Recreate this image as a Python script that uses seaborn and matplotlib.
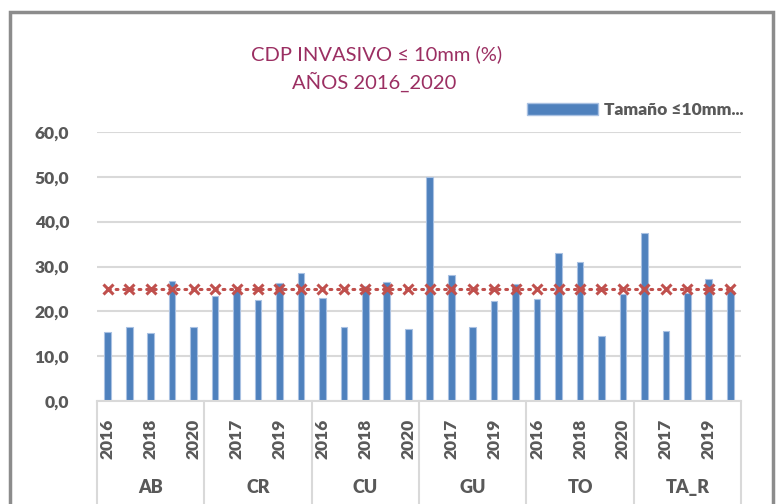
import numpy as np
import pandas as pd
import matplotlib
matplotlib.use('Agg')
import matplotlib.pyplot as plt
import seaborn as sns
from matplotlib.patches import Patch, Rectangle

# datos
grupos = ['AB', 'CR', 'CU', 'GU', 'TO', 'TA_R']
anios = [2016, 2017, 2018, 2019, 2020]
valores_ab = [15.4, 16.6, 15.2, 26.7, 16.5]
valores_cr = [23.5, 24.8, 22.6, 26.4, 28.6]
valores_cu = [23.0, 16.6, 25.6, 26.6, 16.0]
valores_gu = [50.0, 28.1, 16.5, 22.3, 26.0]
valores_to = [22.7, 33.1, 30.9, 14.6, 23.9]
valores_tar = [37.4, 15.7, 24.2, 27.3, 24.5]
referencia = [25.0, 25.0, 25.0, 25.0, 25.0,
              25.0, 25.0, 25.0, 25.0, 25.0,
              25.0, 25.0, 25.0, 25.0, 25.0,
              25.0, 25.0, 25.0, 25.0, 25.0,
              25.0, 25.0, 25.0, 25.0, 25.0,
              25.0, 25.0, 25.0, 25.0, 25.0]
serie = 'Tamaño ≤10mm...'

df = pd.DataFrame({
    'grupo': np.repeat(grupos, len(anios)),
    'anio': anios * len(grupos),
    'valor': valores_ab + valores_cr + valores_cu + valores_gu + valores_to + valores_tar,
    'referencia': referencia,
})
df['etiqueta'] = df['grupo'] + '_' + df['anio'].astype(str)

sns.set_style('white')
plt.rcParams['font.family'] = ['Lato', 'DejaVu Sans']

gris = '#595959'
azul = '#4F81BD'
rojo = '#C0504D'
peso = 'heavy'

fig = plt.figure(figsize=(7.82, 5.04), dpi=100)
ax = fig.add_axes([97 / 782, 1 - 401 / 504, (741 - 97) / 782, (401 - 132) / 504])

sns.barplot(data=df, x='etiqueta', y='valor', color=azul, saturation=1, width=0.31,
            edgecolor='#A9C1E2', linewidth=0.8, ax=ax)

pos = np.arange(len(df))
ax.plot(pos, df['referencia'], color=rojo, ls=(0, (0.6, 1.9)), lw=2.2, marker='x',
        ms=7, mew=2.2, dash_capstyle='round', zorder=4)

ax.set_xlim(-0.5, len(df) - 0.5)
ax.set_ylim(0, 60)
ax.set_yticks(range(0, 61, 10))
ax.set_yticklabels([f'{v:.1f}'.replace('.', ',') for v in range(0, 61, 10)])
ax.grid(axis='y', color='#D9D9D9', lw=1.5)
ax.set_axisbelow(True)
for s in ['left', 'right', 'top']:
    ax.spines[s].set_visible(False)
ax.spines['bottom'].set_color('#D9D9D9')
ax.spines['bottom'].set_linewidth(1.5)
ax.set_xlabel('')
ax.set_ylabel('')

ax.tick_params(axis='y', length=0, pad=20, labelsize=12.5, labelcolor=gris)
ax.set_xticks(pos[::2])
ax.set_xticklabels(df['anio'].astype(str).tolist()[::2], rotation=90, va='top', ha='center')
ax.tick_params(axis='x', length=0, pad=13, labelsize=12.5, labelcolor=gris)
for t in ax.get_xticklabels() + ax.get_yticklabels():
    t.set_fontweight(peso)

# etiquetas de grupo y separadores
trans = ax.get_xaxis_transform()
for i, g in enumerate(grupos):
    ax.text(i * len(anios) + (len(anios) - 1) / 2, -0.323, g, transform=trans,
            ha='center', va='center', fontweight=peso, fontsize=13, color=gris)
for b in np.arange(-0.5, len(df), len(anios)):
    ax.plot([b, b], [0, -0.4], transform=trans, clip_on=False, color='#D9D9D9', lw=1.5)

# titulo
fig.text(0.481, 1 - 54 / 504, 'CDP INVASIVO ≤ 10mm (%)', ha='center', va='center',
         color='#9B2F62', fontsize=14.5)
fig.text(0.479, 1 - 82 / 504, 'AÑOS 2016_2020', ha='center', va='center',
         color='#9B2F62', fontsize=14.5)

# leyenda
leg = fig.legend(handles=[Patch(facecolor=azul, edgecolor='#A9C1E2')], labels=[serie],
                 loc='center left', bbox_to_anchor=(527 / 782, 1 - 110 / 504),
                 frameon=False, handlelength=4.1, handleheight=0.7, handletextpad=0.35,
                 borderpad=0, borderaxespad=0, prop={'weight': peso, 'size': 12.5})
for t in leg.get_texts():
    t.set_color(gris)

# marco exterior
fig.add_artist(Rectangle((10 / 782, -0.05), (773 - 10) / 782, 1 - 12 / 504 + 0.05,
                         transform=fig.transFigure, fill=False, edgecolor='#8C8C8C', lw=2.5))

fig.savefig('out.png', dpi=100)
